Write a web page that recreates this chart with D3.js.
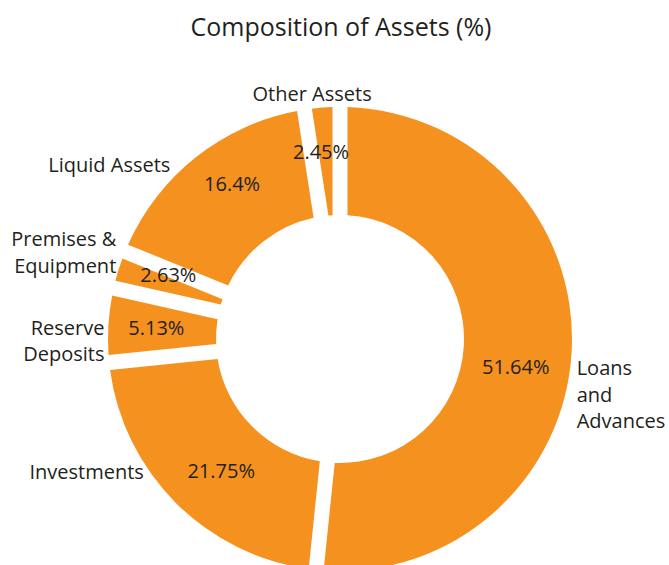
<!DOCTYPE html>
<html>
<head>
<meta charset="utf-8">
<script src="https://cdn.jsdelivr.net/npm/d3@7"></script>
<style>
  body { margin: 0; background: #fff; }
  text { font-family: "Open Sans", sans-serif; fill: #231f20; }
</style>
</head>
<body>
<div id="chart"></div>
<script>
// Chart data
const categories = ["Loans and Advances", "Investments", "Reserve Deposits",
    "Premises & Equipment", "Liquid Assets", "Other Assets"];
const labelLines = [["Loans", "and", "Advances"], ["Investments"], ["Reserve", "Deposits"],
    ["Premises &", "Equipment"], ["Liquid Assets"], ["Other Assets"]];
const values = [51.64, 21.75, 5.13, 2.63, 16.4, 2.45];
const valueLabels = ["51.64%", "21.75%", "5.13%", "2.63%", "16.4%", "2.45%"];

let width = 669, height = 565;
let cx = 340, cy = 339;
let outerR = 232, innerR = 124;
let gap = 15;

let svg = d3.select("#chart")
    .append("svg")
    .attr("width", width)
    .attr("height", height);

// Title
svg.append("text")
    .attr("x", 341)
    .attr("y", 36)
    .style("text-anchor", "middle")
    .style("font-size", "25px")
    .text("Composition of Assets (%)");

let pie = d3.pie().sort(null).value(function(d) { return d; });
let arcs = pie(values);

// constant-width gaps between slices
let arc = d3.arc()
    .innerRadius(innerR)
    .outerRadius(outerR)
    .padRadius(outerR)
    .padAngle(gap / outerR);

let g = svg.append("g").attr("transform", `translate(${cx}, ${cy})`);

g.selectAll("path")
    .data(arcs)
    .enter().append("path")
    .attr("d", arc)
    .attr("fill", "#f5921f");

// point at angle (clockwise from top) and radius
function polar(a, r) {
    return [r * Math.sin(a), -r * Math.cos(a)];
}

// small hand nudges so labels sit where the original layout put them
let insideNudge = {
    "Loans and Advances": [-6, 19], "Investments": [10, 3], "Reserve Deposits": [-2, 0],
    "Premises & Equipment": [2, -10], "Liquid Assets": [5, -12], "Other Assets": [-5, -6]
};
let outsideNudge = {
    "Loans and Advances": [-9, 43], "Investments": [-22, -41], "Reserve Deposits": [10, 17],
    "Premises & Equipment": [11, -13], "Liquid Assets": [-17, 19], "Other Assets": [-9, 0]
};

// Percent labels inside the ring
g.selectAll("text.value")
    .data(arcs)
    .enter().append("text")
    .attr("class", "value")
    .attr("transform", function(d, i) {
        let p = polar((d.startAngle + d.endAngle) / 2, 182);
        let n = insideNudge[categories[i]];
        return `translate(${p[0] + n[0]}, ${p[1] + n[1]})`;
    })
    .attr("dy", "0.35em")
    .style("text-anchor", "middle")
    .style("font-size", "20px")
    .text(function(d, i) { return valueLabels[i]; });

// Category labels outside the ring
let lineH = 26.5;
let cat = g.selectAll("text.cat")
    .data(arcs)
    .enter().append("text")
    .attr("class", "cat")
    .style("font-size", "20px")
    .style("text-anchor", function(d) {
        let s = Math.sin((d.startAngle + d.endAngle) / 2);
        if (s > 0.3) return "start";
        if (s < -0.3) return "end";
        return "middle";
    })
    .attr("transform", function(d, i) {
        let p = polar((d.startAngle + d.endAngle) / 2, 246);
        let n = outsideNudge[categories[i]];
        return `translate(${p[0] + n[0]}, ${p[1] + n[1]})`;
    });

cat.each(function(d, i) {
    let lines = labelLines[i];
    let top = -(lines.length - 1) * lineH / 2;
    d3.select(this).selectAll("tspan")
        .data(lines)
        .enter().append("tspan")
        .attr("x", 0)
        .attr("y", function(l, j) { return top + j * lineH; })
        .attr("dy", "0.35em")
        .text(function(l) { return l; });
});
</script>
</body>
</html>
